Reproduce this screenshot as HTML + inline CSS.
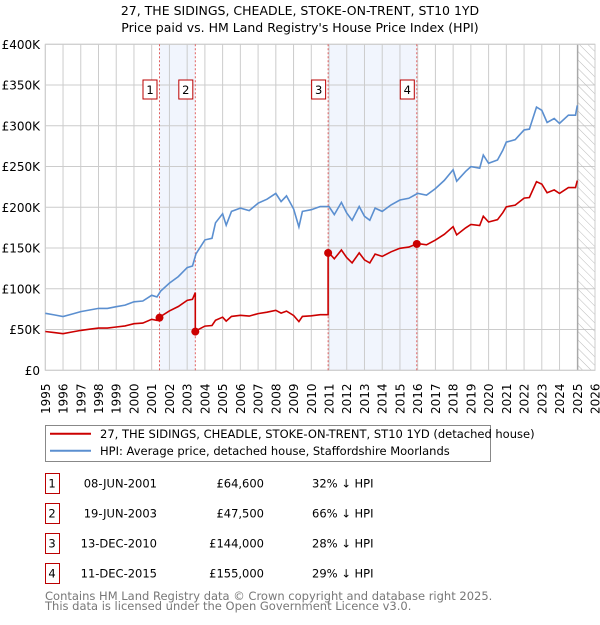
<!DOCTYPE html>
<html><head><meta charset="utf-8"><style>
body{margin:0;background:#fff;font-family:"Liberation Sans","DejaVu Sans",sans-serif;}
svg text{font-family:"DejaVu Sans","Liberation Sans",sans-serif;}
</style></head><body>
<svg id="c" width="600" height="620" xmlns="http://www.w3.org/2000/svg">
<defs><pattern id="hatch" width="6" height="6" patternUnits="userSpaceOnUse" patternTransform="rotate(-45)"><line x1="0" y1="0" x2="0" y2="6" stroke="#bbb" stroke-width="1"/></pattern></defs>
<text x="300" y="15" text-anchor="middle" font-size="12.5">27, THE SIDINGS, CHEADLE, STOKE-ON-TRENT, ST10 1YD</text>
<text x="300" y="32" text-anchor="middle" font-size="12.5">Price paid vs. HM Land Registry's House Price Index (HPI)</text>
<g id="plot"></g>
<g>
<rect x="45.5" y="425.5" width="445" height="36" fill="#fff" stroke="#888"/>
<line x1="50" y1="433.7" x2="91" y2="433.7" stroke="#cc0000" stroke-width="2"/>
<text x="100" y="438" font-size="11.5">27, THE SIDINGS, CHEADLE, STOKE-ON-TRENT, ST10 1YD (detached house)</text>
<line x1="50" y1="450.7" x2="91" y2="450.7" stroke="#5b8fd0" stroke-width="2"/>
<text x="100" y="455" font-size="11.5">HPI: Average price, detached house, Staffordshire Moorlands</text>
</g>
<g id="table" font-size="11.5"></g>
<text x="45" y="600" font-size="11.5" fill="#777">Contains HM Land Registry data © Crown copyright and database right 2025.</text>
<text x="45" y="610" font-size="11.5" fill="#777">This data is licensed under the Open Government Licence v3.0.</text>
</svg>
<script>
const hpiYears=[1995,1995.5,1996,1996.5,1997,1997.5,1998,1998.5,1999,1999.5,2000,2000.5,2001,2001.3,2001.5,2002,2002.5,2003,2003.3,2003.5,2004,2004.4,2004.6,2005,2005.2,2005.5,2006,2006.5,2007,2007.5,2008,2008.3,2008.6,2009,2009.3,2009.5,2010,2010.5,2011,2011.3,2011.7,2012,2012.3,2012.7,2013,2013.3,2013.6,2014,2014.5,2015,2015.5,2016,2016.5,2017,2017.5,2018,2018.2,2018.7,2019,2019.5,2019.7,2020,2020.5,2020.8,2021,2021.5,2022,2022.3,2022.7,2023,2023.3,2023.7,2024,2024.5,2024.9,2025];
const hpiValues=[70,68,66,69,72,74,76,76,78,80,84,85,92,90,97,107,115,126,128,143,160,162,181,192,178,195,199,196,205,210,217,207,214,198,176,195,197,201,201,191,206,193,184,201,189,184,199,195,203,209,211,217,215,223,233,246,232,244,250,248,264,254,258,270,280,283,295,296,323,319,304,309,303,313,313,325];
const saleLabels=["1","2","3","4"];
const saleYears=[2001.44,2003.46,2010.95,2015.95];
const salePrices=[64600,47500,144000,155000];
const saleDates=["08-JUN-2001","19-JUN-2003","13-DEC-2010","11-DEC-2015"];
const salePct=["32% ↓ HPI","66% ↓ HPI","28% ↓ HPI","29% ↓ HPI"];
const yTicks=[0,50000,100000,150000,200000,250000,300000,350000,400000];
const yTickLabels=["£0","£50K","£100K","£150K","£200K","£250K","£300K","£350K","£400K"];
const NS="http://www.w3.org/2000/svg";
const X0=45.3,X1=595,Y0=370.3,Y1=44.3;
const xs=y=>X0+(y-1995)*(X1-X0)/31;
const ys=v=>Y0-(v/400000)*(Y0-Y1);
function hpiAt(t){for(let i=0;i<hpiYears.length-1;i++){if(t<=hpiYears[i+1]){const f=(t-hpiYears[i])/(hpiYears[i+1]-hpiYears[i]);return (hpiValues[i]+f*(hpiValues[i+1]-hpiValues[i]))*1000;}}return hpiValues[hpiValues.length-1]*1000;}
function mk(tag,attrs,parent){const e=document.createElementNS(NS,tag);for(const k in attrs)e.setAttribute(k,attrs[k]);parent.appendChild(e);return e;}
const P=document.getElementById('plot');
// shaded
for(let i=0;i<saleYears.length;i+=2){const r=mk('rect',{x:xs(saleYears[i]),y:Y1,width:xs(saleYears[i+1])-xs(saleYears[i]),height:Y0-Y1,fill:'#eef3fd',opacity:0.8},P);

}
// grid
for(let yr=1995;yr<=2026;yr++){const l=mk('line',{x1:xs(yr),x2:xs(yr),y1:Y1,y2:Y0,stroke:'#ccc','stroke-width':1},P);


const t=mk('text',{transform:`translate(${xs(yr)+4.5},414) rotate(-90)`,'font-size':12},P);t.textContent=yr;

}
yTicks.forEach((v,i)=>{const l=mk('line',{x1:X0,x2:X1,y1:ys(v),y2:ys(v),stroke:'#ccc','stroke-width':1},P);


const t=mk('text',{x:40,y:ys(v)+4.5,'text-anchor':'end','font-size':12},P);t.textContent=yTickLabels[i];

});
// hatch
const h=mk('rect',{x:xs(2025.03),y:Y1,width:X1-xs(2025.03),height:Y0-Y1,fill:'url(#hatch)'},P);


mk('line',{x1:xs(2025.03),x2:xs(2025.03),y1:Y1,y2:Y0,stroke:'#999','stroke-width':1},P);
mk('rect',{x:X0,y:Y1,width:X1-X0,height:Y0-Y1,fill:'none',stroke:'#ccc'},P);
// sale lines and boxes
saleYears.forEach((s,i)=>{const l=mk('line',{x1:xs(s),x2:xs(s),y1:Y1,y2:Y0,stroke:'#e06060','stroke-width':1,'stroke-dasharray':'2,2'},P);


const b=mk('rect',{x:xs(s)-16.5,y:80,width:14,height:19,fill:'#fff',stroke:'#b00'},P);


const t=mk('text',{x:xs(s)-9.5,y:94,'text-anchor':'middle','font-size':11.5},P);t.textContent=saleLabels[i];

});
// hpi line
let d=hpiYears.map((y,i)=>(i?'L':'M')+xs(y).toFixed(1)+','+ys(hpiValues[i]*1000).toFixed(1)).join('');
const hl=mk('path',{d:d,fill:'none',stroke:'#5b8fd0','stroke-width':1.6},P);


// red line: indexed from each sale
let pts=[];
function seg(a,b,si){const base=salePrices[si]/hpiAt(saleYears[si]);const ts=[a];hpiYears.forEach(y=>{if(y>a&&y<b)ts.push(y);});ts.push(b);ts.forEach(t=>pts.push([t,hpiAt(t)*base]));}
seg(1995,saleYears[1],0);seg(saleYears[1],saleYears[2],1);seg(saleYears[2],saleYears[3],2);seg(saleYears[3],2025,3);
d=pts.map((p,i)=>(i?'L':'M')+xs(p[0]).toFixed(1)+','+ys(p[1]).toFixed(1)).join('');
const rl=mk('path',{d:d,fill:'none',stroke:'#cc0000','stroke-width':1.6},P);


saleYears.forEach((s,i)=>{const c=mk('circle',{cx:xs(s),cy:ys(salePrices[i]),r:4,fill:'#cc0000'},P);

});
// table
const T=document.getElementById('table');
saleYears.forEach((s,i)=>{const cy=483+i*30;
const b=mk('rect',{x:45.5,y:cy-9.5,width:14,height:20,fill:'#fff',stroke:'#b00'},T);


const vals=[[52,saleLabels[i],'middle'],[157,saleDates[i],'end'],[264,'£'+salePrices[i].toLocaleString('en-GB'),'end'],[312,salePct[i],'start']];
vals.forEach(v=>{const t=mk('text',{x:v[0],y:cy+4.5,'text-anchor':v[2]},T);t.textContent=v[1];

});});
</script>
</body></html>
